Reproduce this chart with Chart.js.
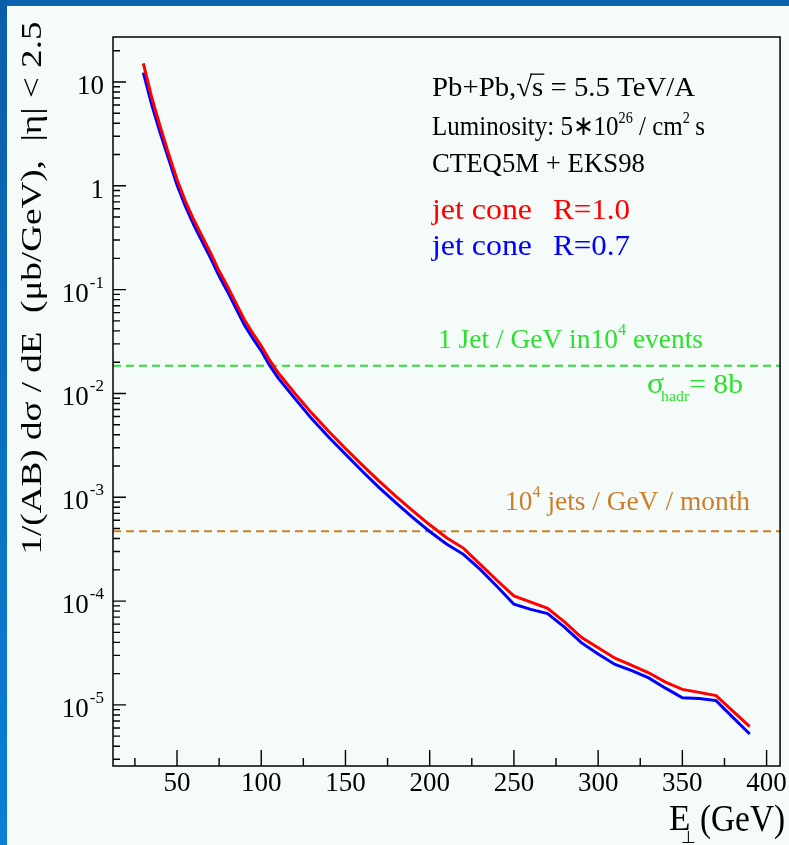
<!DOCTYPE html>
<html><head><meta charset="utf-8">
<script src="https://cdn.jsdelivr.net/npm/chart.js@4.4.1/dist/chart.umd.min.js"></script>
<style>
html,body{margin:0;padding:0;background:#f5fbf9;width:789px;height:845px;overflow:hidden;}
#topband{position:absolute;left:0;top:0;width:789px;height:6px;background:#0b62ad;}
#leftband{position:absolute;left:0;top:0;width:7px;height:845px;background:linear-gradient(#0a5ea8,#0a80d6);}
canvas{position:absolute;left:0;top:0;}
</style></head><body>
<div id="topband"></div><div id="leftband"></div>
<canvas id="c" width="789" height="845"></canvas>
<script>
// ---- data ----
const ENERGY = [30,35,40,45,50,55,60,65,70,75,80,85,90,95,100,105,110,
  120,130,140,150,160,170,180,190,200,210,220,230,240,250,260,270,280,290,300,310,320,330,340,350,360,370,380,390];
const CONE_R10 = [15.1,7.08,3.72,2.04,1.15,0.708,0.468,0.324,0.224,0.151,0.107,0.0741,0.0513,0.0380,0.0288,0.0209,0.0158,
  0.0100,0.00646,0.00432,0.00295,0.00204,0.00143,0.00102,0.000741,0.000543,0.000407,0.000324,0.000226,0.000158,0.000112,
  9.77e-5,8.51e-5,6.31e-5,4.47e-5,3.55e-5,2.82e-5,2.40e-5,2.04e-5,1.66e-5,1.41e-5,1.32e-5,1.23e-5,8.71e-6,6.17e-6];
const CONE_R07 = [12.3,6.03,3.24,1.82,1.02,0.631,0.417,0.288,0.200,0.135,0.0955,0.0661,0.0457,0.0339,0.0257,0.0186,0.0141,
  0.00891,0.00569,0.00380,0.00260,0.00178,0.00124,0.000881,0.000638,0.000468,0.000355,0.000282,0.000202,0.000138,9.33e-5,
  8.32e-5,7.59e-5,5.62e-5,3.98e-5,3.09e-5,2.45e-5,2.14e-5,1.82e-5,1.45e-5,1.17e-5,1.15e-5,1.10e-5,7.59e-6,5.25e-6];
const LEVEL_EVENTS = 0.0185;   // 1 Jet / GeV in 10^4 events
const LEVEL_MONTH = 4.7e-4;    // 10^4 jets / GeV / month
const X_RANGE = [12, 408];
const Y_RANGE = [2.58e-6, 27.1];
const X_TICKS = [50,100,150,200,250,300,350,400];
const X_MINOR = [25,75,125,175,225,275,325,375];
const Y_TICKS = [1e-5,1e-4,1e-3,1e-2,1e-1,1,10];
const Y_TICK_BASE = ['10','10','10','10','10','1','10'];
const Y_TICK_EXP = ['-5','-4','-3','-2','-1','',''];

const SERIF = '"Liberation Serif","Times New Roman",serif';

function drawRuns(ctx, x, base, runs, color, targetW) {
  const meas = r => { ctx.font = r.s + 'px ' + SERIF; return ctx.measureText(r.t).width; };
  let total = 0;
  runs.forEach(r => { total += meas(r) + (r.kern || 0); });
  const kx = targetW ? targetW / total : 1;
  ctx.save();
  ctx.translate(x, base);
  ctx.scale(kx, 1);
  ctx.fillStyle = color; ctx.strokeStyle = color;
  ctx.textAlign = 'left'; ctx.textBaseline = 'alphabetic';
  let cx = 0;
  for (const r of runs) {
    ctx.font = r.s + 'px ' + SERIF;
    const w = ctx.measureText(r.t).width;
    ctx.fillText(r.t, cx, r.dy || 0);
    if (r.over) {
      ctx.lineWidth = 1.3;
      ctx.beginPath(); ctx.moveTo(cx - 2, -r.s * 0.78); ctx.lineTo(cx + w + 1, -r.s * 0.78); ctx.stroke();
    }
    cx += w + (r.kern || 0);
  }
  ctx.restore();
}

const decorPlugin = {
  id: 'decor',
  afterDraw(chart) {
    const ctx = chart.ctx, a = chart.chartArea, xs = chart.scales.x, ys = chart.scales.y;
    ctx.save();
    // inside ticks
    ctx.strokeStyle = '#000'; ctx.lineWidth = 1.4;
    ctx.beginPath();
    X_TICKS.forEach(v => { const p = xs.getPixelForValue(v); ctx.moveTo(p, a.bottom); ctx.lineTo(p, a.bottom - 16); });
    X_MINOR.forEach(v => { const p = xs.getPixelForValue(v); ctx.moveTo(p, a.bottom); ctx.lineTo(p, a.bottom - 8); });
    Y_TICKS.forEach(v => { const p = ys.getPixelForValue(v); ctx.moveTo(a.left, p); ctx.lineTo(a.left + 13, p); });
    for (let d = 1e-6; d < 100; d *= 10) {
      for (let m = 2; m <= 9; m++) {
        const v = m * d;
        if (v > Y_RANGE[0] && v < Y_RANGE[1]) { const p = ys.getPixelForValue(v); ctx.moveTo(a.left, p); ctx.lineTo(a.left + 7, p); }
      }
    }
    ctx.stroke();
    // frame
    ctx.lineWidth = 1.5;
    ctx.strokeRect(a.left, a.top, a.right - a.left, a.bottom - a.top);

    // y tick labels with superscript exponents
    ctx.fillStyle = '#000'; ctx.textBaseline = 'alphabetic'; ctx.textAlign = 'left';
    Y_TICKS.forEach((v, i) => {
      const p = ys.getPixelForValue(v);
      ctx.font = '27px ' + SERIF;
      const wb = ctx.measureText(Y_TICK_BASE[i]).width;
      ctx.font = '17px ' + SERIF;
      const we = Y_TICK_EXP[i] ? ctx.measureText(Y_TICK_EXP[i]).width + 1 : 0;
      const x0 = a.left - 9 - wb - we;
      ctx.font = '27px ' + SERIF;
      ctx.fillText(Y_TICK_BASE[i], x0, p + 12);
      if (we) { ctx.font = '17px ' + SERIF; ctx.fillText(Y_TICK_EXP[i], x0 + wb + 1, p - 2); }
    });
    ctx.restore();

    // y-axis title (rotated)
    ctx.save();
    ctx.translate(33, 288);
    ctx.rotate(-Math.PI / 2);
    const yt = '1/(AB) d\u03C3 / dE  (\u03BCb/GeV),  |\u03B7| < 2.5';
    ctx.font = '29px ' + SERIF;
    const w0 = ctx.measureText(yt).width;
    ctx.scale(533 / w0, 1);
    ctx.fillStyle = '#000'; ctx.textAlign = 'center'; ctx.textBaseline = 'middle';
    ctx.fillText(yt, 0, 0);
    ctx.restore();

    // x-axis title
    drawRuns(ctx, 669, 830, [{t: 'E', s: 35}], '#000');
    drawRuns(ctx, 681, 843, [{t: '\u22A5', s: 17}], '#000');
    drawRuns(ctx, 700, 831, [{t: '(GeV)', s: 37}], '#000', 85);

    // info block
    drawRuns(ctx, 432, 96, [{t: 'Pb+Pb,', s: 28}, {t: '\u221A', s: 28}, {t: 's', s: 28, over: true}, {t: ' = 5.5 TeV/A', s: 28}], '#000', 263);
    drawRuns(ctx, 432, 135, [{t: 'Luminosity: 5\u221710', s: 28}, {t: '26', s: 16, dy: -12}, {t: ' / cm', s: 28}, {t: '2', s: 16, dy: -12, kern: -1}, {t: ' s', s: 28}], '#000', 273);
    drawRuns(ctx, 432, 172, [{t: 'CTEQ5M + EKS98', s: 28}], '#000', 213);
    drawRuns(ctx, 432, 219, [{t: 'jet cone', s: 30}], '#ff0000', 100);
    drawRuns(ctx, 553, 219, [{t: 'R=1.0', s: 30}], '#ff0000', 77);
    drawRuns(ctx, 432, 255, [{t: 'jet cone', s: 30}], '#0000ff', 100);
    drawRuns(ctx, 553, 255, [{t: 'R=0.7', s: 30}], '#0000ff', 77);

    // reference-line labels
    drawRuns(ctx, 438, 348, [{t: '1 Jet / GeV in10', s: 27}, {t: '4', s: 16, dy: -13}, {t: ' events', s: 27}], '#2ee02e', 265);
    drawRuns(ctx, 647, 393, [{t: '\u03C3', s: 30, kern: -3}, {t: 'hadr', s: 15, dy: 8}, {t: '= 8b', s: 28}], '#2ee02e', 96);
    drawRuns(ctx, 505, 510, [{t: '10', s: 27}, {t: '4', s: 16, dy: -13}, {t: ' jets / GeV / month', s: 27}], '#cc7f2a', 245);
  }
};

const toXY = (arr) => ENERGY.map((e, i) => ({x: e, y: arr[i]}));

new Chart(document.getElementById('c'), {
  type: 'line',
  data: {
    datasets: [
      {label: 'jet cone R=1.0', data: toXY(CONE_R10), borderColor: '#ff0000', borderWidth: 3, pointRadius: 0, tension: 0, fill: false},
      {label: 'jet cone R=0.7', data: toXY(CONE_R07), borderColor: '#0000ff', borderWidth: 3, pointRadius: 0, tension: 0, fill: false},
      {label: '1 Jet / GeV in 10^4 events', data: [{x: X_RANGE[0], y: LEVEL_EVENTS}, {x: X_RANGE[1], y: LEVEL_EVENTS}],
        borderColor: '#2ee02e', borderWidth: 2, borderDash: [8, 5], pointRadius: 0, fill: false},
      {label: '10^4 jets / GeV / month', data: [{x: X_RANGE[0], y: LEVEL_MONTH}, {x: X_RANGE[1], y: LEVEL_MONTH}],
        borderColor: '#cc7f2a', borderWidth: 2, borderDash: [8, 5], pointRadius: 0, fill: false}
    ]
  },
  options: {
    responsive: false, animation: false, devicePixelRatio: 1,
    layout: {padding: {left: 0, top: 37, right: 8, bottom: 0}},
    plugins: {legend: {display: false}, tooltip: {enabled: false}},
    scales: {
      x: {
        type: 'linear', min: X_RANGE[0], max: X_RANGE[1],
        afterFit(s) { s.height = 79; },
        afterBuildTicks(s) { s.ticks = X_TICKS.map(v => ({value: v})); },
        grid: {display: false, drawTicks: false}, border: {display: false},
        ticks: {padding: 2, autoSkip: false, maxRotation: 0, color: '#000', font: {family: SERIF, size: 27}}
      },
      y: {
        type: 'logarithmic', min: Y_RANGE[0], max: Y_RANGE[1],
        afterFit(s) { s.width = 113; },
        afterBuildTicks(s) { s.ticks = Y_TICKS.map(v => ({value: v})); },
        grid: {display: false, drawTicks: false}, border: {display: false},
        ticks: {display: false}
      }
    }
  },
  plugins: [decorPlugin]
});
</script>
</body></html>
